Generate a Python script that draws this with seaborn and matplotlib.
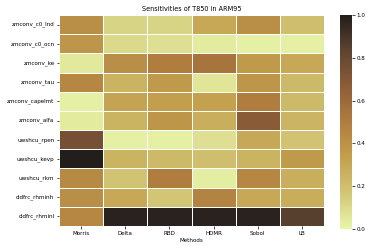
import numpy as np
import pandas as pd
import seaborn as sns
import matplotlib
matplotlib.use('Agg')
import matplotlib.pyplot as plt
from matplotlib.colors import LinearSegmentedColormap

params = ['zmconv_c0_lnd', 'zmconv_c0_ocn', 'zmconv_ke', 'zmconv_tau',
          'zmconv_capelmt', 'zmconv_alfa', 'uwshcu_rpen', 'uwshcu_kevp',
          'uwshcu_rkm', 'cldfrc_rhminh', 'cldfrc_rhminl']
methods = ['Morris', 'Delta', 'RBD', 'HDMR', 'Sobol', 'LB']

morris = [0.42, 0.38, 0.05, 0.45, 0.02, 0.04, 0.75, 1.00, 0.44, 0.42, 0.45]
delta = [0.12, 0.10, 0.42, 0.25, 0.32, 0.25, 0.02, 0.25, 0.18, 0.30, 0.98]
rbd = [0.12, 0.08, 0.50, 0.36, 0.34, 0.38, 0.02, 0.22, 0.50, 0.17, 0.98]
hdmr = [0.30, 0.04, 0.55, 0.06, 0.33, 0.27, 0.08, 0.20, 0.03, 0.47, 0.98]
sobol = [0.42, 0.02, 0.36, 0.38, 0.50, 0.68, 0.30, 0.25, 0.45, 0.30, 0.98]
lb = [0.20, 0.02, 0.30, 0.22, 0.22, 0.24, 0.18, 0.36, 0.27, 0.28, 0.85]

df = pd.DataFrame({'Morris': morris, 'Delta': delta, 'RBD': rbd,
                   'HDMR': hdmr, 'Sobol': sobol, 'LB': lb}, index=params)

# approximation of cmocean "turbid"
turbid = LinearSegmentedColormap.from_list(
    'turbid', ['#e8f6ab', '#d2c675', '#c3a04e', '#b07d3e', '#8d5d38',
               '#5e4431', '#221e1b'])

plt.rcParams.update({'font.size': 4.1})
W, H = 366, 246
fig = plt.figure(figsize=(3.66, 2.46), dpi=100)
ax = fig.add_axes([59 / W, 1 - 226 / H, (324 - 59) / W, (226 - 15) / H])
cax = fig.add_axes([340 / W, 1 - 229 / H, 12 / W, (229 - 15) / H])
sns.heatmap(df, cmap=turbid, vmin=0, vmax=1, linewidths=0.6, linecolor='white',
            ax=ax, cbar_ax=cax)
ax.set_title('Sensitivities of T850 in ARM95', fontsize=4.7, pad=3)
ax.set_xlabel('Methods', fontsize=4.1, labelpad=2)
ax.tick_params(length=1.8, width=0.5, pad=1.5)
cax.tick_params(labelsize=4.1, length=1.8, width=0.5, pad=1.5)
for s in cax.spines.values():
    s.set_visible(False)
plt.savefig('out.png', dpi=100)
